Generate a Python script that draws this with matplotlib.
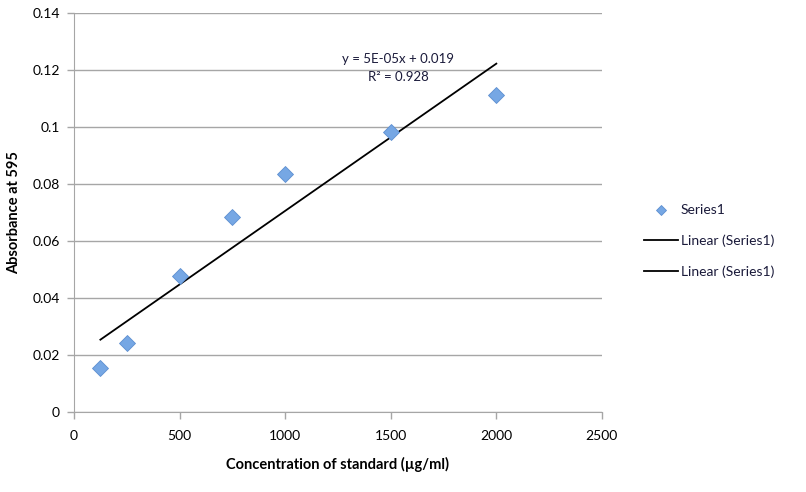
import numpy as np
from matplotlib import pyplot as plt
from matplotlib.ticker import FuncFormatter, MultipleLocator

# standard concentrations (ug/ml) and absorbance at 595 nm
conc = [125, 250, 500, 750, 1000, 1500, 2000]
absorb = [0.0155, 0.0243, 0.0477, 0.0684, 0.0835, 0.0982, 0.1112]
series_name = "Series1"
trend_name = "Linear (Series1)"
eq_text = ["y = 5E-05x + 0.019", "R² = 0.928"]

plt.rcParams['font.family'] = ['Lato', 'DejaVu Sans']

fig = plt.figure(figsize=(8.06, 4.92), dpi=100)
ax = fig.add_axes([0.0918, 0.1626, 0.655, 0.811])

grey = "#a6a6a6"
pts, = ax.plot(conc, absorb, linestyle="none", marker="D", markersize=8.5,
               markerfacecolor="#76a7e4", markeredgecolor="#5d8fd0",
               markeredgewidth=0.6, zorder=3)

# least squares trendline, as Excel draws it
slope, icpt = np.polyfit(conc, absorb, 1)
xs = np.array([min(conc), max(conc)])
trend, = ax.plot(xs, slope * xs + icpt, color="black", lw=1.3, zorder=2)

ax.text(1534, 0.1240, eq_text[0], ha="center", va="center", fontsize=9.5, color="#1a1a3a")
ax.text(1534, 0.1177, eq_text[1], ha="center", va="center", fontsize=9.5, color="#1a1a3a")

ax.set_xlim(0, 2500)
ax.set_ylim(0, 0.14)
ax.xaxis.set_major_locator(MultipleLocator(500))
ax.yaxis.set_major_locator(MultipleLocator(0.02))
ax.yaxis.set_major_formatter(FuncFormatter(lambda v, p: "%g" % round(v, 4)))
ax.grid(axis="y", color=grey, lw=1)
ax.set_axisbelow(True)
for s in ["top", "right"]:
    ax.spines[s].set_visible(False)
for s in ["left", "bottom"]:
    ax.spines[s].set_color(grey)
ax.tick_params(direction="out", length=5, color=grey, labelsize=10, width=1)
ax.tick_params(axis="x", pad=8)
ax.tick_params(axis="y", pad=5)

ax.set_xlabel("Concentration of standard (µg/ml)", fontsize=10.5, fontweight="bold", labelpad=11)
ax.set_ylabel("Absorbance at 595", fontsize=10.5, fontweight="bold", labelpad=8)

fig.legend([pts, trend, trend], [series_name, trend_name, trend_name],
           loc="center left", bbox_to_anchor=(0.784, 0.51), frameon=False,
           fontsize=10, handlelength=2.4, labelspacing=1.3, handletextpad=0.2,
           markerscale=0.65, labelcolor="#1a1a3a")

fig.savefig("out.png", dpi=100)
